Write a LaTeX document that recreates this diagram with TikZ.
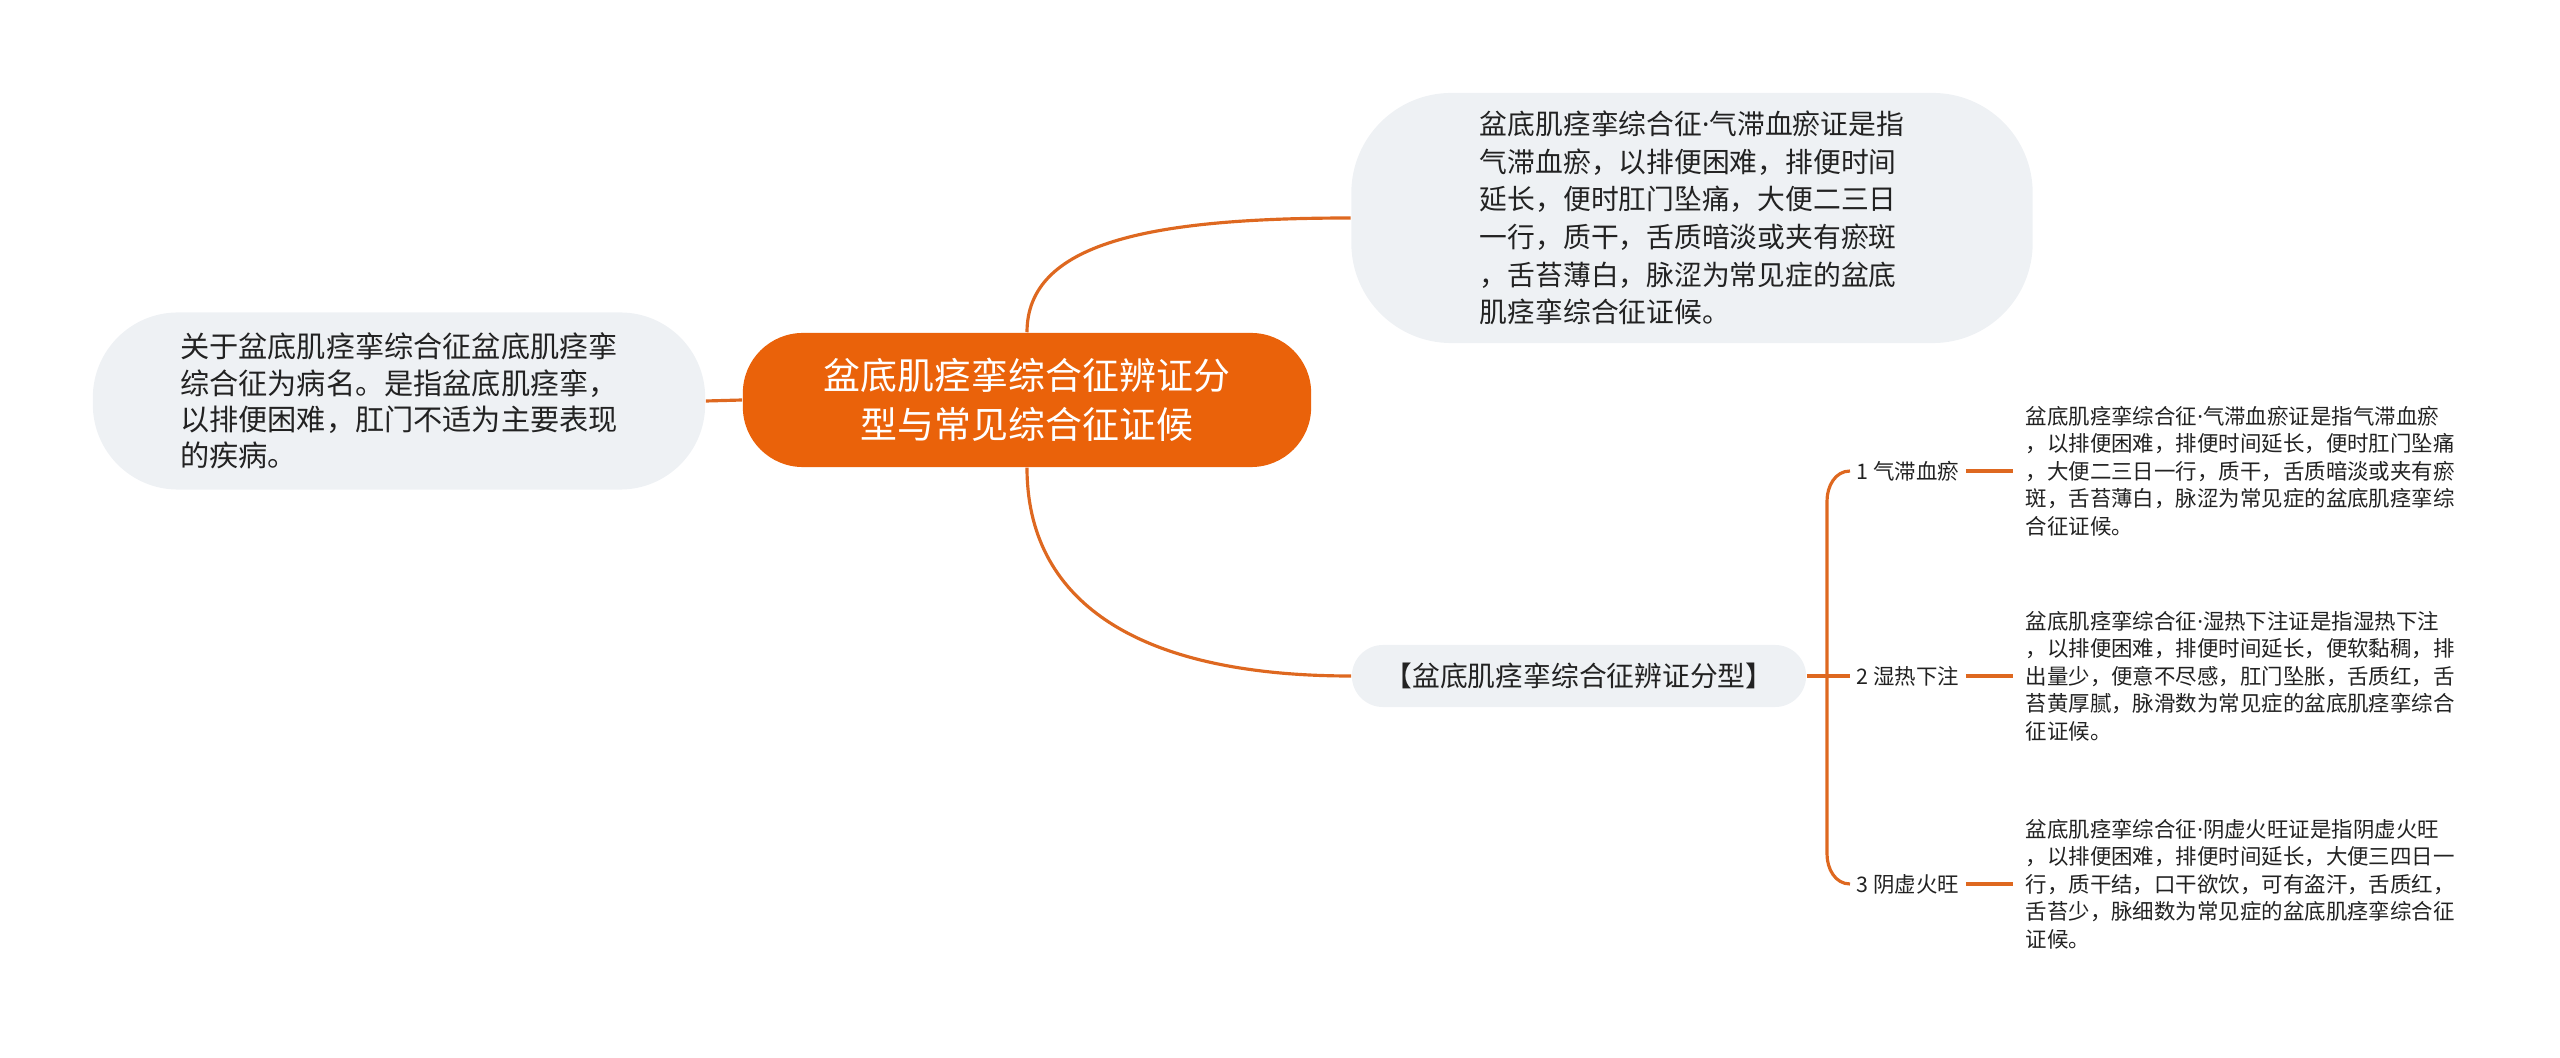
\documentclass[tikz,border=0pt]{standalone}
\usepackage{fontspec}
\setmainfont{Noto Sans CJK SC}
\newfontfamily\latinfont{Noto Sans}
\newcommand{\mdot}{{\latinfont ·}}
\usepackage{xcolor}
\usetikzlibrary{positioning}
\definecolor{hubfill}{RGB}{234,98,10}
\definecolor{linkcol}{RGB}{222,104,32}
\definecolor{bubfill}{RGB}{238,241,244}
\definecolor{txt}{RGB}{34,34,34}

\begin{document}
\begin{tikzpicture}[x=0.01cm,y=0.01cm,
  hub/.style={fill=hubfill,text=white,rounded corners=0.6cm,minimum width=5.68cm,minimum height=1.34cm,align=center,font=\fontsize{10.5}{14}\selectfont},
  bubble/.style={fill=bubfill,text=txt,align=left,inner sep=0pt},
  leaf/.style={text=txt,align=left,anchor=west,inner xsep=0.06cm,font=\fontsize{6.1}{7.8}\selectfont},
  link/.style={draw=linkcol,line width=0.9pt}]
\useasboundingbox (0,0) rectangle (2560,1057);
\node[hub] (root) at (1027,657) {盆底肌痉挛综合征辨证分\\型与常见综合征证候};
\node[bubble,minimum width=6.81cm,minimum height=2.5cm,rounded corners=1cm,font=\fontsize{7.9}{10.7}\selectfont] (qz) at (1692,839) {盆底肌痉挛综合征\mdot 气滞血瘀证是指\\气滞血瘀，以排便困难，排便时间\\延长，便时肛门坠痛，大便二三日\\一行，质干，舌质暗淡或夹有瘀斑\\，舌苔薄白，脉涩为常见症的盆底\\肌痉挛综合征证候。};
\node[bubble,minimum width=6.12cm,minimum height=1.77cm,rounded corners=0.85cm,font=\fontsize{8.3}{10.3}\selectfont] (about) at (399,656) {关于盆底肌痉挛综合征盆底肌痉挛\\综合征为病名。是指盆底肌痉挛，\\以排便困难，肛门不适为主要表现\\的疾病。};
\node[bubble,minimum width=4.54cm,minimum height=0.62cm,rounded corners=0.31cm,font=\fontsize{7.9}{10}\selectfont] (types) at (1579,381) {【盆底肌痉挛综合征辨证分型】};
\node[leaf] (k1) at (1850,586) {1 气滞血瘀};
\node[leaf] (k2) at (1850,381) {2 湿热下注};
\node[leaf] (k3) at (1850,173) {3 阴虚火旺};
\node[leaf,inner xsep=0.12cm] (d1) at (2013,586) {盆底肌痉挛综合征\mdot 气滞血瘀证是指气滞血瘀\\，以排便困难，排便时间延长，便时肛门坠痛\\，大便二三日一行，质干，舌质暗淡或夹有瘀\\斑，舌苔薄白，脉涩为常见症的盆底肌痉挛综\\合征证候。};
\node[leaf,inner xsep=0.12cm] (d2) at (2013,381) {盆底肌痉挛综合征\mdot 湿热下注证是指湿热下注\\，以排便困难，排便时间延长，便软黏稠，排\\出量少，便意不尽感，肛门坠胀，舌质红，舌\\苔黄厚腻，脉滑数为常见症的盆底肌痉挛综合\\征证候。};
\node[leaf,inner xsep=0.12cm] (d3) at (2013,173) {盆底肌痉挛综合征\mdot 阴虚火旺证是指阴虚火旺\\，以排便困难，排便时间延长，大便三四日一\\行，质干结，口干欲饮，可有盗汗，舌质红，\\舌苔少，脉细数为常见症的盆底肌痉挛综合征\\证候。};
\coordinate (bt) at (1827,556);
\coordinate (bb) at (1827,203);
\draw[link] (root.west) -- (about.east);
\draw[link] (root.north) .. controls +(0,90) and +(-200,0) .. (qz.west);
\draw[link] (root.south) .. controls +(0,-130) and +(-220,0) .. (types.west);
\draw[link] (types.east) -- (k2.west);
\draw[link] (k1.west) to[out=180,in=90] (bt) -- (bb) to[out=-90,in=180] (k3.west);
\draw[link] (k1.east) -- (d1.west);
\draw[link] (k2.east) -- (d2.west);
\draw[link] (k3.east) -- (d3.west);
\end{tikzpicture}
\end{document}
